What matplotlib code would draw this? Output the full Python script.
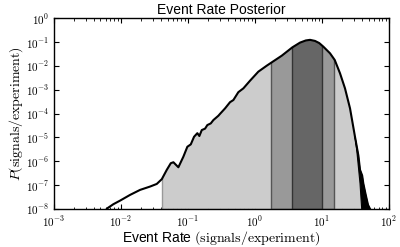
import numpy as np
import matplotlib
matplotlib.use("Agg")
import matplotlib.pyplot as plt
from matplotlib.patches import Polygon
from matplotlib.ticker import FuncFormatter, LogLocator

plt.rcParams['font.family'] = ['Liberation Sans', 'DejaVu Sans']
plt.rcParams['mathtext.fontset'] = 'cm'

# ---- data (log10 values) ----
log_rate = [-2.30, -2.198, -2.109, -2.009, -1.860, -1.711, -1.562, -1.462, -1.387,
            -1.313, -1.253, -1.214, -1.140, -1.066, -1.006, -0.955, -0.906, -0.857,
            -0.827, -0.791, -0.742, -0.708, -0.657, -0.618, -0.544, -0.519, -0.444,
            -0.370, -0.320, -0.246, -0.171, -0.072, 0.052, 0.177, 0.246, 0.401,
            0.559, 0.674, 0.760, 0.823, 0.897, 0.960, 1.021, 1.121, 1.191, 1.270,
            1.344, 1.419, 1.493]
log_post = [-8.30, -7.97, -7.80, -7.65, -7.41, -7.20, -7.06, -6.95, -6.75,
            -6.36, -6.08, -6.04, -6.25, -5.81, -5.39, -5.29, -4.97, -4.82,
            -4.94, -4.69, -4.63, -4.48, -4.41, -4.27, -4.09, -4.01, -3.78,
            -3.52, -3.43, -3.10, -2.94, -2.62, -2.24, -1.99, -1.86, -1.57,
            -1.22, -1.02, -0.93, -0.905, -0.95, -1.04, -1.19, -1.47, -1.75, -2.31,
            -2.94, -3.78, -4.97]
# noisy tail: inner and outer envelope of the jagged curve
tail_inner_lrate = [1.493, 1.519, 1.568, 1.593]
tail_inner_lpost = [-4.97, -5.53, -6.93, -8.00]
tail_outer_lrate = [1.493, 1.543, 1.568, 1.600, 1.617, 1.653, 1.687, 1.717]
tail_outer_lpost = [-4.97, -5.75, -6.36, -6.60, -6.93, -7.41, -7.83, -8.00]

# credible intervals (lo, hi) and colours
bands = [(0.0414, 60.0), (1.73, 15.1), (3.56, 10.2)]
band_face = ['#cccccc', '#999999', '#666666']
band_edge = ['#999999', '#555555', '#333333']

rate = 10 ** np.array(log_rate)
post = 10 ** np.array(log_post)
ti_r = 10 ** np.array(tail_inner_lrate)
ti_p = 10 ** np.array(tail_inner_lpost)
to_r = 10 ** np.array(tail_outer_lrate)
to_p = 10 ** np.array(tail_outer_lpost)

fig = plt.figure(figsize=(4.0, 2.47), dpi=100)
ax = fig.add_axes([0.134, 0.154, 0.8385, 0.772])
ax.set_xscale('log')
ax.set_yscale('log')
ax.set_xlim(1e-3, 1e2)
ax.set_ylim(1e-8, 1e0)

# region under the curve used to clip the credible bands
ymin = 1e-8
verts = list(zip(rate, post)) + list(zip(ti_r[1:], ti_p[1:])) + [(ti_r[-1], ymin), (rate[0], ymin)]
clip = Polygon(verts, closed=True, transform=ax.transData, facecolor='none', edgecolor='none')
ax.add_patch(clip)

for (lo, hi), fc, ec in zip(bands, band_face, band_edge):
    span = ax.axvspan(lo, hi, facecolor=fc, edgecolor=ec, linewidth=1.0, zorder=2)
    span.set_clip_path(clip)

# jagged tail (filled black between envelopes)
tx = list(to_r) + list(ti_r[::-1])
ty = list(to_p) + list(ti_p[::-1])
ax.fill(tx, ty, color='black', linewidth=0.8, zorder=3)

line_r = np.concatenate([rate, to_r[1:]])
line_p = np.concatenate([post, to_p[1:]])
ax.plot(line_r, line_p, color='black', linewidth=1.5, zorder=4)

ax.tick_params(which='both', direction='in', top=True, right=True, labelsize=8)
ax.tick_params(axis='x', which='both', pad=4)
ax.tick_params(axis='y', which='both', pad=3)
ax.tick_params(which='major', length=3.5, width=0.8)
ax.tick_params(which='minor', length=1.8, width=0.6)
ax.xaxis.set_major_locator(LogLocator(base=10, numticks=10))
ax.yaxis.set_major_locator(LogLocator(base=10, numticks=12))
fmt = FuncFormatter(lambda v, p: r'$10^{%d}$' % int(round(np.log10(v))))
ax.xaxis.set_major_formatter(fmt)
ax.yaxis.set_major_formatter(fmt)
for s in ax.spines.values():
    s.set_linewidth(1.0)

ax.set_title('Event Rate Posterior', fontsize=10, pad=3)
ax.set_xlabel(r'Event Rate $(\mathrm{signals/experiment})$', fontsize=10, labelpad=0)
ax.set_ylabel(r'$P(\mathrm{signals/experiment})$', fontsize=10, labelpad=1)

fig.savefig('out.png', dpi=100)
